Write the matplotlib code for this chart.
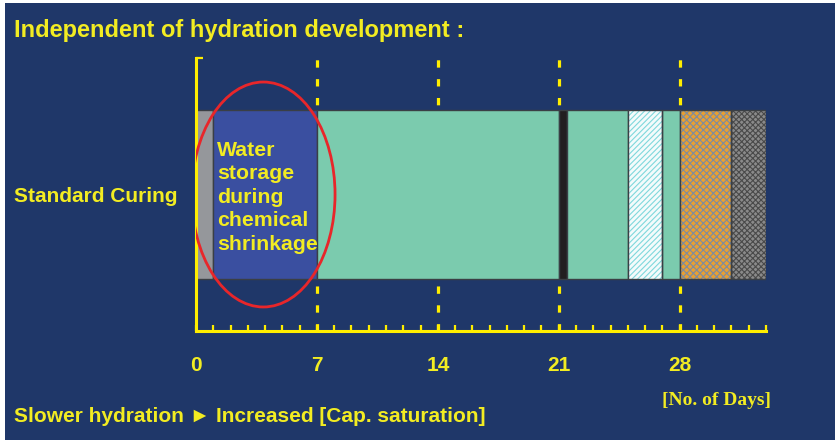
import numpy as np
import matplotlib
matplotlib.use('Agg')
import matplotlib.pyplot as plt
from matplotlib.patches import Ellipse, Rectangle

plt.rcParams['font.family'] = ['Liberation Sans', 'DejaVu Sans']
plt.rcParams['hatch.linewidth'] = 0.8

# data
seg_start = [0, 1, 7, 21, 21.5, 25, 27, 28, 31]
seg_end = [1, 7, 21, 21.5, 25, 27, 28, 31, 33]
seg_color = ['#95979b', '#3a4fa0', '#7bcbae', '#221e20', '#7bcbae',
             '#f4fbfb', '#7bcbae', '#e8a032', '#8a8a8a']
seg_hatch = [None, None, None, None, None, '//////', None, 'xxxxx', 'xxxxxx']
seg_hatch_color = [None, None, None, None, None, '#7fd8dc', None, '#7d8ca0', '#4a4a4a']
major_days = [0, 7, 14, 21, 28]
row_label = 'Standard Curing'

navy = '#1f3769'
yellow = '#f2ec22'

fig = plt.figure(figsize=(8.36, 4.4), dpi=100, facecolor='white')
fig.patches.append(Rectangle((5 / 836, 0), 830 / 836, 437 / 440, transform=fig.transFigure,
                             facecolor=navy, edgecolor='none', zorder=-5))

ax = fig.add_axes([196 / 836, 109 / 440, 570 / 836, 273 / 440])
ax.set_facecolor('none')
ax.set_xlim(0, 33)
ax.set_ylim(0, 1)

# dashed guides
for d in major_days[1:]:
    ax.plot([d, d], [0, 1], color='#ffee00', lw=2.3, dashes=(2.3, 3.6), zorder=1)

# bar segments
for s, e, c, h, hc in zip(seg_start, seg_end, seg_color, seg_hatch, seg_hatch_color):
    if h is None:
        ax.barh(0.5, e - s, left=s, height=0.62, color=c, edgecolor='#3a3f45',
                linewidth=1.0, zorder=2)
    else:
        ax.barh(0.5, e - s, left=s, height=0.62, color=c, edgecolor=hc,
                hatch=h, linewidth=0, zorder=2)
        ax.barh(0.5, e - s, left=s, height=0.62, color='none', edgecolor='#3a3f45',
                linewidth=1.0, zorder=3)

# ellipse
ax.add_patch(Ellipse((3.9, 0.5), 8.3, 0.824, facecolor='none', edgecolor='#e8262a',
                     lw=2.0, zorder=5))

ax.text(1.2, 0.49, 'Water\nstorage\nduring\nchemical\nshrinkage', color=yellow,
        fontsize=15.3, fontweight='bold', ha='left', va='center', linespacing=1.3, zorder=6)

# axes styling
for side in ['top', 'right']:
    ax.spines[side].set_visible(False)
for side in ['left', 'bottom']:
    ax.spines[side].set_color('#ffee00')
    ax.spines[side].set_linewidth(2.2)

ax.set_xticks(major_days)
ax.set_xticklabels([str(d) for d in major_days])
ax.set_xticks(np.arange(0, 34), minor=True)
ax.tick_params(axis='x', which='both', direction='in', length=4, width=1.6,
               color='#ffee00', pad=18)
ax.tick_params(axis='x', which='major', labelsize=15, labelcolor=yellow)
for lbl in ax.get_xticklabels():
    lbl.set_fontweight('bold')

ax.set_yticks([0.5, 1.0])
ax.set_yticklabels([])
ax.tick_params(axis='y', direction='in', length=5, width=1.6, color='#ffee00')

fig.text(177 / 836, 1 - 202 / 440, row_label, color=yellow, fontsize=15,
         fontweight='bold', ha='right', va='baseline')
fig.text(14 / 836, 1 - 37 / 440, 'Independent of hydration development :', color=yellow,
         fontsize=17, fontweight='bold', ha='left', va='baseline')
fig.text(14 / 836, 1 - 422 / 440, 'Slower hydration \u25ba Increased [Cap. saturation]',
         color=yellow, fontsize=15, fontweight='bold', ha='left', va='baseline')
fig.text(716 / 836, 1 - 400 / 440, '[No. of Days]', color=yellow, fontsize=14,
         fontweight='bold', family=['Liberation Serif', 'DejaVu Serif'],
         ha='center', va='center')

plt.savefig('out.png', dpi=100, facecolor=fig.get_facecolor())
